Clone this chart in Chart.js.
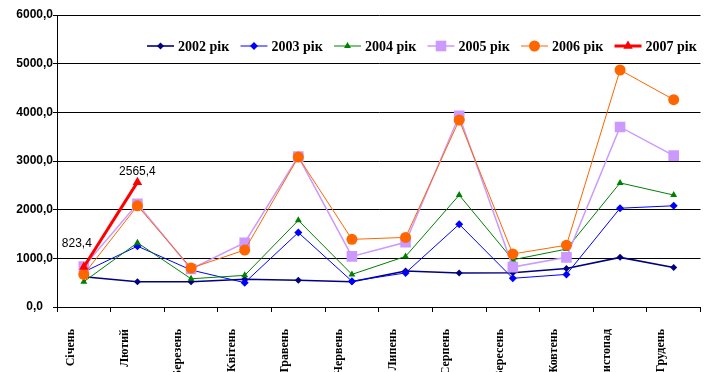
<!DOCTYPE html>
<html>
<head>
<meta charset="utf-8">
<script src="https://cdn.jsdelivr.net/npm/chart.js@4/dist/chart.umd.min.js"></script>
<style>
    html, body { margin: 0; padding: 0; background: #fff; }
    #wrap { width: 708px; height: 372px; }
</style>
</head>
<body>
<div id="wrap"><canvas id="chart" width="708" height="372"></canvas></div>
<script>
// Months (x categories)
var months = ['Січень', 'Лютий', 'Березень', 'Квітень', 'Травень', 'Червень',
    'Липень', 'Серпень', 'Вересень', 'Жовтень', 'Листопад', 'Грудень'];

// Series values
var y2002 = [620, 520, 520, 570, 550, 520, 740, 700, 705, 790, 1020, 810];
var y2003 = [720, 1250, 760, 500, 1530, 530, 700, 1700, 590, 670, 2030, 2080];
var y2004 = [520, 1320, 580, 650, 1780, 670, 1040, 2300, 970, 1190, 2550, 2300];
var y2005 = [830, 2120, 780, 1320, 3090, 1040, 1330, 3930, 820, 1020, 3700, 3110];
var y2006 = [670, 2080, 800, 1170, 3080, 1390, 1430, 3840, 1090, 1270, 4870, 4260];
var y2007 = [823.4, 2565.4, null, null, null, null, null, null, null, null, null, null];

var seriesNames = ['2002 рік', '2003 рік', '2004 рік', '2005 рік', '2006 рік', '2007 рік'];

// Y ticks
var yMin = 0;
var yMax = 6000;
var yStep = 1000;

function fmt(v) {
    return v.toFixed(1).replace('.', ',');
}

function makeSet(label, data, color, style, radius, width, order) {
    return {
        label: label,
        data: data,
        borderColor: color,
        backgroundColor: color,
        pointBackgroundColor: color,
        pointBorderColor: color,
        pointBorderWidth: 0,
        pointStyle: style,
        pointRadius: radius,
        pointHoverRadius: radius,
        borderWidth: width,
        tension: 0,
        fill: false,
        spanGaps: false,
        order: order
    };
}

var datasets = [
    makeSet(seriesNames[0], y2002, '#000080', 'rectRot', 3.5, 1.6, 5),
    makeSet(seriesNames[1], y2003, '#0000ff', 'rectRot', 4, 1, 4),
    makeSet(seriesNames[2], y2004, '#008000', 'triangle', 4, 1, 3),
    makeSet(seriesNames[3], y2005, '#cc99ff', 'rect', 7.5, 1.5, 2),
    makeSet(seriesNames[4], y2006, '#ff6600', 'circle', 5.5, 1, 1),
    makeSet(seriesNames[5], y2007, '#ff0000', 'triangle', 5.5, 3, 0)
];

// Legend drawn inside the plot, one row
var legendPlugin = {
    id: 'rowLegend',
    afterDraw: function(chart) {
        var ctx = chart.ctx;
        var x0 = 147, step = 93.5, y = 46, lineLen = 27;
        ctx.save();
        chart.data.datasets.forEach(function(ds, i) {
            var x = x0 + i * step;
            ctx.strokeStyle = ds.borderColor;
            ctx.fillStyle = ds.borderColor;
            ctx.lineWidth = ds.borderWidth;
            ctx.beginPath();
            ctx.moveTo(x, y);
            ctx.lineTo(x + lineLen, y);
            ctx.stroke();
            Chart.helpers.drawPoint(ctx, {
                pointStyle: ds.pointStyle,
                radius: ds.pointRadius,
                rotation: 0,
                borderWidth: 0
            }, x + lineLen / 2, y);
            ctx.fillStyle = '#000';
            ctx.font = 'bold 14px "Liberation Serif", "Times New Roman", serif';
            ctx.textAlign = 'left';
            ctx.textBaseline = 'middle';
            ctx.fillText(ds.label, x + lineLen + 4, y + 1);
        });
        ctx.restore();
    }
};

// Value labels on the 2007 series
var labelOffsets = [[-7, -23], [0, -10]];
var valueLabelPlugin = {
    id: 'valueLabels',
    afterDatasetsDraw: function(chart) {
        var ctx = chart.ctx;
        var meta = chart.getDatasetMeta(5);
        ctx.save();
        ctx.font = '12px "Liberation Sans", Arial, sans-serif';
        ctx.fillStyle = '#000';
        ctx.textAlign = 'center';
        ctx.textBaseline = 'middle';
        meta.data.forEach(function(pt, i) {
            var v = y2007[i];
            if (v === null || !labelOffsets[i]) return;
            ctx.fillText(fmt(v), pt.x + labelOffsets[i][0], pt.y + labelOffsets[i][1]);
        });
        ctx.restore();
    }
};

new Chart(document.getElementById('chart').getContext('2d'), {
    type: 'line',
    data: { labels: months, datasets: datasets },
    plugins: [legendPlugin, valueLabelPlugin],
    options: {
        responsive: false,
        animation: false,
        devicePixelRatio: 1,
        layout: { padding: { top: 15, right: 6, left: 0, bottom: 0 } },
        plugins: {
            legend: { display: false },
            tooltip: { enabled: false },
            title: { display: false }
        },
        scales: {
            x: {
                type: 'category',
                offset: true,
                grid: {
                    offset: true,
                    drawOnChartArea: false,
                    drawTicks: true,
                    tickLength: 5,
                    color: '#000'
                },
                border: { display: true, color: '#000', width: 1 },
                ticks: {
                    minRotation: 90,
                    maxRotation: 90,
                    autoSkip: false,
                    padding: 17,
                    labelOffset: -13,
                    color: '#000',
                    font: { family: '"Liberation Serif", "Times New Roman", serif', size: 12, weight: 'bold' }
                },
                afterFit: function(scale) { scale.height = 65; }
            },
            y: {
                min: yMin,
                max: yMax,
                grid: {
                    color: '#000',
                    lineWidth: 1,
                    drawTicks: true,
                    tickLength: 4
                },
                border: { display: true, color: '#000', width: 1 },
                ticks: {
                    stepSize: yStep,
                    padding: 0,
                    crossAlign: 'center',
                    color: '#000',
                    font: { family: '"Liberation Sans", Arial, sans-serif', size: 12, weight: 'bold' },
                    callback: function(v) { return fmt(v); }
                },
                afterFit: function(scale) { scale.width = 57; }
            }
        }
    }
});
</script>
</body>
</html>
